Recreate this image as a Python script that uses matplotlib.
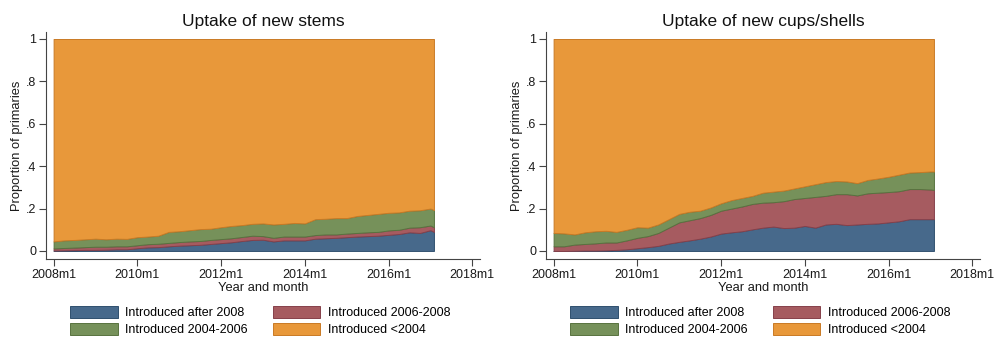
import numpy as np
import matplotlib.pyplot as plt

plt.rcParams['font.family'] = ['Liberation Sans', 'DejaVu Sans']

# months since 2008m1 (quarterly readings, last point 2017m2)
months = list(range(0, 109, 3)) + [109]

# cumulative share of primaries using a model introduced after a given year
stems_after2008 = [0.002, 0.003, 0.004, 0.005, 0.005, 0.006, 0.008, 0.008, 0.013, 0.017,
                   0.018, 0.022, 0.025, 0.027, 0.029, 0.033, 0.037, 0.041, 0.047, 0.052,
                   0.053, 0.045, 0.050, 0.050, 0.050, 0.058, 0.060, 0.062, 0.065, 0.068,
                   0.070, 0.072, 0.076, 0.080, 0.088, 0.085, 0.098, 0.090]
stems_after2006 = [0.012, 0.014, 0.016, 0.018, 0.020, 0.020, 0.022, 0.022, 0.027, 0.032,
                   0.034, 0.038, 0.042, 0.045, 0.047, 0.052, 0.056, 0.060, 0.066, 0.072,
                   0.070, 0.062, 0.068, 0.068, 0.068, 0.075, 0.078, 0.078, 0.082, 0.085,
                   0.088, 0.090, 0.097, 0.100, 0.110, 0.112, 0.120, 0.112]
stems_after2004 = [0.045, 0.050, 0.052, 0.055, 0.058, 0.055, 0.058, 0.057, 0.065, 0.068,
                   0.072, 0.090, 0.093, 0.098, 0.103, 0.105, 0.112, 0.118, 0.122, 0.128,
                   0.130, 0.125, 0.128, 0.132, 0.130, 0.150, 0.152, 0.155, 0.155, 0.165,
                   0.170, 0.175, 0.180, 0.182, 0.190, 0.192, 0.200, 0.193]

cups_after2008 = [0.000, 0.000, 0.001, 0.002, 0.002, 0.003, 0.005, 0.008, 0.013, 0.018,
                  0.024, 0.035, 0.043, 0.050, 0.058, 0.068, 0.082, 0.088, 0.093, 0.102,
                  0.110, 0.115, 0.108, 0.110, 0.118, 0.110, 0.125, 0.128, 0.122, 0.125,
                  0.128, 0.130, 0.135, 0.140, 0.150, 0.150, 0.150, 0.150]
cups_after2006 = [0.022, 0.022, 0.030, 0.033, 0.036, 0.040, 0.040, 0.050, 0.062, 0.070,
                  0.085, 0.110, 0.135, 0.145, 0.155, 0.170, 0.190, 0.200, 0.210, 0.222,
                  0.228, 0.230, 0.235, 0.245, 0.250, 0.255, 0.260, 0.268, 0.268, 0.262,
                  0.272, 0.275, 0.278, 0.282, 0.292, 0.292, 0.290, 0.288]
cups_after2004 = [0.085, 0.083, 0.078, 0.088, 0.093, 0.095, 0.090, 0.100, 0.112, 0.110,
                  0.125, 0.150, 0.175, 0.185, 0.190, 0.205, 0.225, 0.240, 0.250, 0.260,
                  0.275, 0.280, 0.285, 0.295, 0.305, 0.315, 0.325, 0.330, 0.328, 0.320,
                  0.335, 0.342, 0.350, 0.360, 0.370, 0.372, 0.375, 0.375]

series_labels = ['Introduced after 2008', 'Introduced 2006-2008',
                 'Introduced 2004-2006', 'Introduced <2004']
colors = ['#47698b', '#a65b60', '#76915a', '#e8983a']
edges = ['#2f4f6e', '#86404a', '#58733f', '#c97a25']

xtick_pos = [0, 24, 48, 72, 96, 120]
xtick_labels = ['2008m1', '2010m1', '2012m1', '2014m1', '2016m1', '2018m1']
ytick_pos = [0, 0.2, 0.4, 0.6, 0.8, 1]
ytick_labels = ['0', '.2', '.4', '.6', '.8', '1']

W, H = 995, 337
fig = plt.figure(figsize=(W / 100, H / 100), dpi=100)
fig.patch.set_facecolor('white')

panels = [
    ('Uptake of new stems', stems_after2008, stems_after2006, stems_after2004, 46),
    ('Uptake of new cups/shells', cups_after2008, cups_after2006, cups_after2004, 546),
]

for title, a08, a06, a04, left_px in panels:
    ax = fig.add_axes([left_px / W, 78 / H, 434 / W, 227 / H])
    x = np.array(months)
    levels = [np.zeros(len(x)), np.array(a08), np.array(a06), np.array(a04), np.ones(len(x))]
    handles = []
    for i in range(4):
        h = ax.fill_between(x, levels[i], levels[i + 1], facecolor=colors[i],
                            edgecolor=edges[i], linewidth=0.7, label=series_labels[i])
        handles.append(h)

    ax.set_xlim(-2.18, 122.2)
    ax.set_ylim(-0.038, 1.033)
    ax.set_xticks(xtick_pos)
    ax.set_xticklabels(xtick_labels)
    ax.set_yticks(ytick_pos)
    ax.set_yticklabels(ytick_labels)
    ax.tick_params(labelsize=9, length=5, width=0.8, color='#444444', labelcolor='#1a1a1a', pad=2)
    for s in ['top', 'right']:
        ax.spines[s].set_visible(False)
    for s in ['left', 'bottom']:
        ax.spines[s].set_color('#444444')
        ax.spines[s].set_linewidth(0.8)

    ax.set_title(title, fontsize=12.5, color='#111111', pad=4)
    ax.set_xlabel('Year and month', fontsize=9.3, color='#1a1a1a', labelpad=1)
    ax.set_ylabel('Proportion of primaries', fontsize=9.3, color='#1a1a1a', labelpad=2)

    # legend: column-wise fill gives after2008 / 2004-2006 then 2006-2008 / <2004
    order = [0, 2, 1, 3]
    ax.legend([handles[i] for i in order], [series_labels[i] for i in order],
              ncol=2, loc='upper center', bbox_to_anchor=(0.494, -0.18),
              frameon=False, fontsize=9, handlelength=3.8, handleheight=1.05,
              handletextpad=0.6, columnspacing=2.0, labelspacing=0.3, borderpad=0)

fig.savefig('out.png', dpi=100)
